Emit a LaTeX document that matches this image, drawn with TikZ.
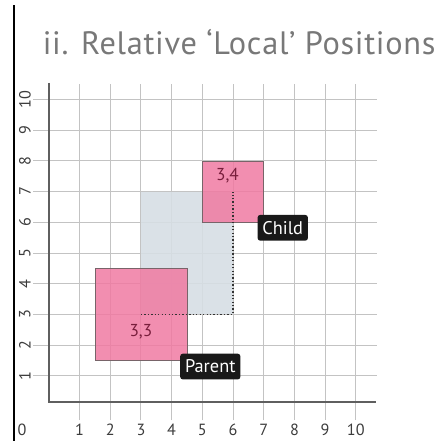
\documentclass[tikz,border=0pt]{standalone}
\usepackage{fontspec}
\setmainfont{PT Sans}
\newfontfamily\titlefont[LetterSpace=2.2]{PT Sans}
\definecolor{gridgray}{RGB}{195,195,195}
\definecolor{axisgray}{RGB}{95,95,95}
\definecolor{labelgray}{RGB}{60,60,60}
\definecolor{titlegray}{RGB}{120,120,120}
\definecolor{localblue}{RGB}{214,222,228}
\definecolor{boxpink}{RGB}{240,122,162}
\definecolor{boxedge}{RGB}{120,100,105}
\definecolor{maroon}{RGB}{120,30,60}
\begin{document}
\begin{tikzpicture}[x=1cm, y=1cm,
    gridline/.style={gridgray, line width=0.8pt},
    axisline/.style={axisgray, line width=1.3pt},
    ticklabel/.style={text=labelgray, font=\fontsize{15}{15}\selectfont},
    pinkbox/.style={draw=boxedge, fill=boxpink, fill opacity=0.85, line width=0.5pt, inner sep=0pt},
    tagbox/.style={fill=black!90, text=white, rounded corners=2.5pt, minimum height=0.84cm, inner xsep=4.5pt, font=\fontsize{17}{17}\selectfont},
    coordlabel/.style={text=maroon, font=\fontsize{16}{16}\selectfont}]
    \useasboundingbox (-1.59,-1.124) rectangle (12.84,13.24);
    % Frame line and title
    \draw[black, line width=1.4pt] (-1.13,-1.124) -- (-1.13,13.08);
    \node[titlegray, anchor=base west, inner sep=0pt, font=\titlefont\fontsize{30}{30}\selectfont] (title) at (-0.2,11.45) {ii. Relative ‘Local’ Positions};
    % Grid
    \foreach \i in {1,...,10} {
        \draw[gridline] (\i,-0.45) -- (\i,10.5);
        \draw[gridline] (-0.5,\i) -- (10.7,\i);
        \node[ticklabel] (xl\i) at (\i,-0.77) {\i};
        \node[ticklabel, rotate=90] (yl\i) at (-0.78,\i) {\i};
    }
    \node[ticklabel] (xl0) at (-0.87,-0.77) {0};
    % Axes
    \draw[axisline] (0,10.54) -- (0,0.15) -- (10.66,0.15);
    % Local area of the child
    \fill[localblue, fill opacity=0.9] (3,3) rectangle (6,7);
    % Parent and child
    \node[pinkbox, minimum width=3cm, minimum height=3cm] (parent) at (3,3) {};
    \node[pinkbox, minimum width=2cm, minimum height=2cm] (child) at (6,7) {};
    \draw[black!80, dotted, line width=1.2pt] (parent.center) -| (child.center);
    % Labels
    \node[coordlabel] (pos33) at (3,2.43) {3,3};
    \node[coordlabel] (pos34) at (5.82,7.52) {3,4};
    \node[tagbox] (parenttag) at (5.26,1.30) {Parent};
    \node[tagbox] (childtag) at (7.62,5.82) {Child};
\end{tikzpicture}
\end{document}
